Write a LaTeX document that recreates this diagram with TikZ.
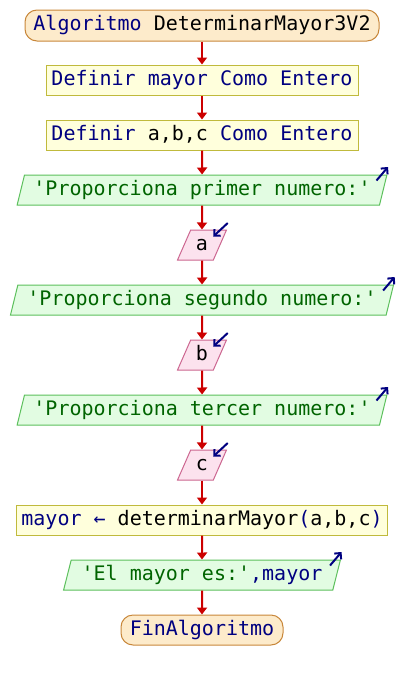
\documentclass[tikz,border=0pt]{standalone}
\usepackage{fontspec}
\setmonofont{DejaVu Sans Mono}
\usetikzlibrary{shapes.geometric,arrows.meta}
\definecolor{kw}{HTML}{000080}
\definecolor{strtext}{HTML}{006400}
\definecolor{termfill}{HTML}{FDEBCB}
\definecolor{termedge}{HTML}{C8873A}
\definecolor{procfill}{HTML}{FFFFDC}
\definecolor{procedge}{HTML}{C0BA3C}
\definecolor{outfill}{HTML}{E2FCE2}
\definecolor{outedge}{HTML}{5CC05C}
\definecolor{infill}{HTML}{FCE2EE}
\definecolor{inedge}{HTML}{CC6690}
\definecolor{flowred}{HTML}{CC0000}
\begin{document}
\begin{tikzpicture}[x=1pt,y=-1pt,
  base/.style={inner sep=0pt, font=\ttfamily\fontsize{20}{24}\selectfont,
    text=kw, line width=1pt, text height=14.6pt, text depth=4.6pt},
  term/.style={base, rectangle, rounded corners=12pt, draw=termedge, fill=termfill},
  proc/.style={base, rectangle, draw=procedge, fill=procfill},
  slanted/.style={base, trapezium, trapezium left angle=70,
    trapezium right angle=110, trapezium stretches=true},
  outp/.style={slanted, draw=outedge, fill=outfill, text=strtext},
  inp/.style={slanted, draw=inedge, fill=infill, text=black},
  flow/.style={draw=flowred, line width=2pt, -{Triangle[length=7pt,width=10pt]}},
  icon/.style={draw=kw, line width=2pt, -{Straight Barb[length=4.5pt,width=9pt]}},
]
\useasboundingbox (0,0) rectangle (404,680);

% flowchart blocks
\node[term, minimum width=354pt, minimum height=31pt] (start) at (202,25.5)
  {Algoritmo \textcolor{black}{DeterminarMayor3V2}};
\node[proc, minimum width=312pt, minimum height=30pt] (d1) at (202,80)
  {Definir mayor Como Entero};
\node[proc, minimum width=312pt, minimum height=30pt] (d2) at (202,135)
  {Definir \textcolor{black}{a,b,c} Como Entero};
\node[outp, minimum width=371pt, minimum height=30pt] (p1) at (202,190)
  {'Proporciona primer numero:'};
\node[inp, minimum width=49pt, minimum height=30pt] (a) at (202,245) {a};
\node[outp, minimum width=384pt, minimum height=30pt] (p2) at (202,300)
  {'Proporciona segundo numero:'};
\node[inp, minimum width=49pt, minimum height=30pt] (b) at (202,355) {b};
\node[outp, minimum width=371pt, minimum height=30pt] (p3) at (202,410)
  {'Proporciona tercer numero:'};
\node[inp, minimum width=49pt, minimum height=30pt] (c) at (202,465) {c};
\node[proc, minimum width=371pt, minimum height=30pt] (asg) at (202,520)
  {mayor ← \textcolor{black}{determinarMayor}(\textcolor{black}{a,b,c})};
\node[outp, minimum width=277pt, minimum height=30pt] (res) at (202,575)
  {'El mayor es:'\textcolor{kw}{,mayor}};
\node[term, minimum width=162pt, minimum height=30pt] (fin) at (202,630)
  {FinAlgoritmo};

% control flow
\foreach \u/\v in {start/d1, d1/d2, d2/p1, p1/a, a/p2, p2/b, b/p3, p3/c, c/asg, asg/res, res/fin}
  \draw[flow] (\u.south) -- (\v.north);

% output markers
\foreach \n in {p1, p2, p3, res} {
  \coordinate (\n-o1) at ([shift={(-11,6)}]\n.top right corner);
  \coordinate (\n-o2) at ([shift={(0.5,-7.5)}]\n.top right corner);
  \draw[icon] (\n-o1) -- (\n-o2);
}
% input markers
\foreach \n in {a, b, c} {
  \coordinate (\n-i1) at ([shift={(0.5,-6.5)}]\n.top right corner);
  \coordinate (\n-i2) at ([shift={(-14,7)}]\n.top right corner);
  \draw[icon] (\n-i1) -- (\n-i2);
}
\end{tikzpicture}
\end{document}
